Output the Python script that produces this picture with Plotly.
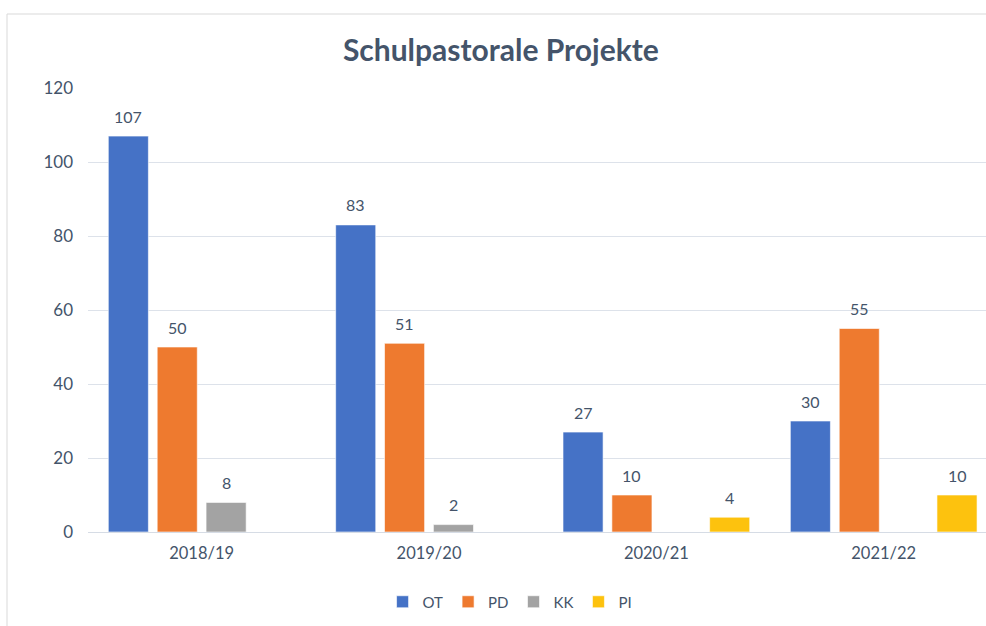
import plotly.graph_objects as go

categories = ["2018/19", "2019/20", "2020/21", "2021/22"]
series_names = ["OT", "PD", "KK", "PI"]
ot_values = [107, 83, 27, 30]
pd_values = [50, 51, 10, 55]
kk_values = [8, 2, None, None]
pi_values = [None, None, 4, 10]
y_ticks = [0, 20, 40, 60, 80, 100, 120]

series_values = [ot_values, pd_values, kk_values, pi_values]
colors = ["#4572C6", "#EE7A2F", "#A3A3A3", "#FDC20E"]

W, H = 986, 626
L, R, T, B = 88, 0, 88, 94
x_range = [-0.5, 3.45]
bargap = 0.14
bargroupgap = 0.18

font = "Lato, 'Open Sans', sans-serif"
text_color = "#44546A"

fig = go.Figure()
for name, vals, col in zip(series_names, series_values, colors):
    fig.add_trace(go.Bar(
        x=categories, y=vals, name=name,
        marker=dict(color=col, line=dict(color="rgba(255,255,255,0.6)", width=1)),
        hoverinfo="x+y+name",
    ))

# data labels as annotations, offset horizontally to each bar's slot
plot_w = W - L - R
px_per_cat = plot_w / (x_range[1] - x_range[0])
slot = px_per_cat * (1 - bargap) / len(series_names)
annotations = []
for i, vals in enumerate(series_values):
    for cat, v in zip(categories, vals):
        if v is None:
            continue
        annotations.append(dict(
            x=cat, y=v, xref="x", yref="y", text=str(v), showarrow=False,
            xshift=(i - (len(series_names) - 1) / 2) * slot, yshift=20,
            font=dict(family=font, size=16, color=text_color),
        ))

fig.update_layout(
    width=W, height=H,
    margin=dict(l=L, r=R, t=T, b=B),
    paper_bgcolor="white", plot_bgcolor="white",
    barmode="group", bargap=bargap, bargroupgap=bargroupgap,
    title=dict(text="<b>Schulpastorale Projekte</b>", x=0.508, xref="container",
               y=1 - 50 / H, yref="container", yanchor="middle",
               font=dict(family=font, size=30, color=text_color)),
    font=dict(family=font, size=15, color=text_color),
    xaxis=dict(range=x_range, showgrid=False, showline=True, linecolor="#D6DCE5",
               linewidth=1, ticks="", ticklabelstandoff=6,
               tickfont=dict(family=font, size=16.5, color=text_color)),
    yaxis=dict(range=[0, 120], tickvals=y_ticks, showgrid=True, gridcolor="#DDE2EA",
               gridwidth=1, zeroline=False, showline=False, ticks="",
               ticklabelstandoff=14,
               tickfont=dict(family=font, size=17, color=text_color)),
    legend=dict(orientation="h", x=0.47, xanchor="center", yref="container",
                y=1 - 602 / H, yanchor="middle", itemwidth=30,
                font=dict(family=font, size=15, color=text_color)),
    annotations=annotations,
    shapes=[dict(type="rect", xref="paper", yref="paper",
                 x0=(7 - L) / plot_w, x1=1.2,
                 y0=-(B + 5) / (H - T - B), y1=1 + (T - 14) / (H - T - B),
                 line=dict(color="#D9D9D9", width=1), layer="below")],
    showlegend=True,
)

fig.write_html("out.html", config={"displayModeBar": False},
               post_script="document.body.style.margin='0';document.body.style.overflow='hidden';")
